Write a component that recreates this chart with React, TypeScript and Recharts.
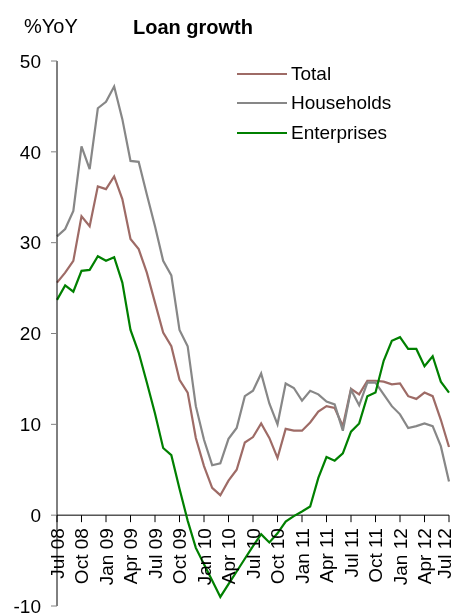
import { LineChart, Line, XAxis, YAxis, ReferenceLine, Legend } from "recharts";

const MONTHS = [
  "Jul 08", "Aug 08", "Sep 08", "Oct 08", "Nov 08", "Dec 08",
  "Jan 09", "Feb 09", "Mar 09", "Apr 09", "May 09", "Jun 09",
  "Jul 09", "Aug 09", "Sep 09", "Oct 09", "Nov 09", "Dec 09",
  "Jan 10", "Feb 10", "Mar 10", "Apr 10", "May 10", "Jun 10",
  "Jul 10", "Aug 10", "Sep 10", "Oct 10", "Nov 10", "Dec 10",
  "Jan 11", "Feb 11", "Mar 11", "Apr 11", "May 11", "Jun 11",
  "Jul 11", "Aug 11", "Sep 11", "Oct 11", "Nov 11", "Dec 11",
  "Jan 12", "Feb 12", "Mar 12", "Apr 12", "May 12", "Jun 12",
  "Jul 12",
];

const TOTAL = [
  25.6, 26.7, 28.0, 32.9, 31.8, 36.2, 35.9, 37.3, 34.8, 30.4, 29.3, 26.7,
  23.4, 20.1, 18.6, 14.9, 13.5, 8.5, 5.4, 3.0, 2.2, 3.8, 5.0, 8.0,
  8.6, 10.1, 8.5, 6.3, 9.5, 9.3, 9.3, 10.2, 11.4, 12.0, 11.8, 9.8,
  13.9, 13.3, 14.8, 14.8, 14.7, 14.4, 14.5, 13.1, 12.8, 13.5, 13.1, 10.5,
  7.5,
];

const HOUSEHOLDS = [
  30.7, 31.5, 33.5, 40.6, 38.1, 44.8, 45.5, 47.2, 43.6, 39.0, 38.9, 35.3,
  31.8, 28.0, 26.4, 20.4, 18.6, 12.0, 8.3, 5.5, 5.7, 8.4, 9.6, 13.1,
  13.7, 15.6, 12.3, 10.0, 14.5, 14.0, 12.6, 13.7, 13.3, 12.5, 12.2, 9.3,
  13.8, 12.1, 14.6, 14.6, 13.3, 12.0, 11.1, 9.6, 9.8, 10.1, 9.8, 7.6,
  3.7,
];

const ENTERPRISES = [
  23.7, 25.3, 24.6, 26.9, 27.0, 28.5, 28.0, 28.4, 25.6, 20.4, 17.9, 14.6,
  11.2, 7.4, 6.6, 2.9, -0.6, -3.6, -5.4, -7.2, -9.0, -7.6, -6.2, -4.8,
  -3.4, -2.1, -3.0, -2.0, -0.7, -0.1, 0.4, 0.95, 4.1, 6.4, 6.0, 6.8,
  9.2, 10.1, 13.1, 13.5, 17.0, 19.2, 19.6, 18.3, 18.3, 16.4, 17.5, 14.7,
  13.5,
];

const Y_TICKS = [-10, 0, 10, 20, 30, 40, 50];
const X_TICKS = MONTHS.map((_, i) => i).filter((i) => i % 3 === 0);

const SERIES = [
  { key: "total", name: "Total", color: "#9E6B66" },
  { key: "households", name: "Households", color: "#878787" },
  { key: "enterprises", name: "Enterprises", color: "#008000" },
];

const data = MONTHS.map((month, i) => ({
  i,
  month,
  total: TOTAL[i],
  households: HOUSEHOLDS[i],
  enterprises: ENTERPRISES[i],
}));

const FONT = "'Liberation Sans', Arial, sans-serif";
const W = 451;
const H = 605;
const MARGIN = { top: 53, right: 10, bottom: 0, left: 0 };
const X_AXIS_H = 7;
const Y_MIN = -10;
const Y_MAX = 50;
const PLOT_H = H - MARGIN.top - MARGIN.bottom - X_AXIS_H;
// distance from bottom of plot up to the zero line
const ZERO_SHIFT = (PLOT_H * (0 - Y_MIN)) / (Y_MAX - Y_MIN);

function MonthTick(props: any) {
  const { x, y, payload } = props;
  const y0 = y - ZERO_SHIFT;
  const ty = y0 + 13;
  // last label is nudged left so it stays inside the frame
  const tx = payload.value === MONTHS.length - 1 ? x - 5 : x;
  return (
    <g>
      <line x1={x} x2={x} y1={y0} y2={y0 + 7} stroke="#000" />
      <text
        x={tx}
        y={ty}
        transform={`rotate(-90 ${tx} ${ty})`}
        textAnchor="end"
        dy="0.35em"
        fontSize={19}
        fontFamily={FONT}
        fill="#000"
      >
        {MONTHS[payload.value]}
      </text>
    </g>
  );
}

function LegendBox() {
  return (
    <div style={{ fontFamily: FONT, fontSize: 19, color: "#000" }}>
      {SERIES.map((s) => (
        <div
          key={s.key}
          style={{ display: "flex", alignItems: "center", height: 29.5 }}
        >
          <span
            style={{
              display: "inline-block",
              width: 50,
              height: 2,
              background: s.color,
              marginRight: 4,
            }}
          />
          <span>{s.name}</span>
        </div>
      ))}
    </div>
  );
}

export default function App() {
  return (
    <div
      style={{
        position: "fixed",
        left: 8,
        top: 8,
        width: W,
        height: H,
        fontFamily: FONT,
      }}
    >
      <div
        style={{
          position: "absolute",
          left: 16,
          top: 8,
          fontSize: 20,
          lineHeight: "20px",
        }}
      >
        %YoY
      </div>
      <div
        style={{
          position: "absolute",
          left: 125,
          top: 9,
          fontSize: 20,
          lineHeight: "20px",
          fontWeight: "bold",
        }}
      >
        Loan growth
      </div>
      <LineChart width={W} height={H} data={data} margin={MARGIN} style={{ overflow: "visible" }}>
        <XAxis
          dataKey="i"
          type="number"
          domain={[0, MONTHS.length - 1]}
          ticks={X_TICKS}
          interval={0}
          height={X_AXIS_H}
          axisLine={false}
          tickLine={false}
          tickSize={0}
          tickMargin={0}
          tick={<MonthTick />}
        />
        <YAxis
          domain={[Y_MIN, Y_MAX]}
          ticks={Y_TICKS}
          interval={0}
          width={49}
          tickSize={6}
          tickMargin={10}
          axisLine={{ stroke: "#000" }}
          tickLine={{ stroke: "#808080" }}
          tick={{ fontSize: 19, fill: "#000", fontFamily: FONT }}
        />
        <ReferenceLine y={0} stroke="#000" />
        {SERIES.map((s) => (
          <Line
            key={s.key}
            dataKey={s.key}
            name={s.name}
            stroke={s.color}
            strokeWidth={2.2}
            dot={false}
            isAnimationActive={false}
          />
        ))}
        <Legend
          layout="horizontal"
          verticalAlign="middle"
          align="center"
          content={<LegendBox />}
          wrapperStyle={{ top: 51, left: 229, width: "auto" }}
        />
      </LineChart>
    </div>
  );
}
